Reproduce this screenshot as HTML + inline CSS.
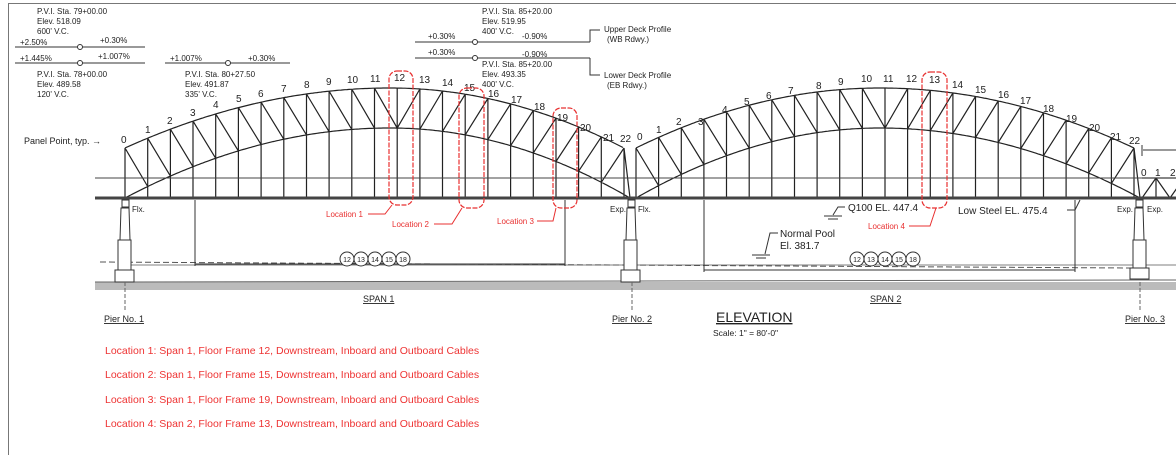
<!DOCTYPE html>
<html><head><meta charset="utf-8"><style>
html,body{margin:0;padding:0;background:#fff;width:1176px;height:455px;overflow:hidden}
svg{display:block}
text{font-family:"Liberation Sans",sans-serif;fill:#222}
.s{font-size:8px}.n{font-size:10px}.r{fill:#e83030;font-size:8px}
.list{fill:#ee3333;font-size:10.5px}
</style></head><body>
<svg id="d" width="1176" height="455" viewBox="0 0 1176 455" xmlns="http://www.w3.org/2000/svg">
<rect x="8.5" y="3.5" width="1180" height="460" fill="none" stroke="#777" stroke-width="1"/>
<g id="lines" stroke="#222" stroke-width="1.2" fill="none"></g>
<line x1="95" y1="198" x2="1176" y2="198" stroke="#444" stroke-width="3"/>
<line x1="95" y1="178" x2="1176" y2="178" stroke="#444" stroke-width="1"/>
<rect x="95" y="282" width="1081" height="8" fill="#bbb"/>
<line x1="95" y1="282" x2="1176" y2="280" stroke="#666"/>
<line x1="100" y1="262" x2="1130" y2="268" stroke="#555" stroke-dasharray="6,3"/>
<line x1="125" y1="265" x2="1176" y2="265" stroke="#555" stroke-width="0.8"/>
<g stroke="#333" fill="#fff">
<rect x="122" y="200" width="7" height="7"/><path d="M121 208 L120 240 L130 240 L129 208 Z"/><rect x="118" y="240" width="13" height="32"/><rect x="115" y="270" width="19" height="12"/>
<rect x="628" y="200" width="7" height="7"/><path d="M627 208 L626 240 L636 240 L635 208 Z"/><rect x="624" y="240" width="13" height="32"/><rect x="621" y="270" width="19" height="12"/>
<rect x="1136" y="200" width="7" height="7"/><path d="M1135 208 L1134 240 L1144 240 L1143 208 Z"/><rect x="1133" y="240" width="13" height="30"/><rect x="1130" y="268" width="19" height="11"/>
</g>
<g stroke="#666" stroke-dasharray="4,2"><line x1="125" y1="282" x2="125" y2="312"/><line x1="632" y1="282" x2="632" y2="312"/><line x1="1140" y1="282" x2="1140" y2="312"/></g>
<g stroke="#333">
<line x1="195" y1="200" x2="195" y2="266"/><line x1="565" y1="200" x2="565" y2="266"/><line x1="195" y1="264" x2="565" y2="264"/>
<line x1="704" y1="200" x2="704" y2="272"/><line x1="1075" y1="200" x2="1075" y2="272"/><line x1="704" y1="270" x2="1075" y2="270"/>
<line x1="1143" y1="150" x2="1176" y2="150"/><line x1="1142" y1="145" x2="1142" y2="156"/>
</g>
<g fill="#fff" stroke="#333">
<circle cx="347" cy="259" r="7"/><circle cx="361" cy="259" r="7"/><circle cx="375" cy="259" r="7"/><circle cx="389" cy="259" r="7"/><circle cx="403" cy="259" r="7"/>
<circle cx="857" cy="259" r="7"/><circle cx="871" cy="259" r="7"/><circle cx="885" cy="259" r="7"/><circle cx="899" cy="259" r="7"/><circle cx="913" cy="259" r="7"/>
</g>
<g font-size="7" text-anchor="middle">
<text x="347" y="262" font-size="7">12</text><text x="361" y="262" font-size="7">13</text><text x="375" y="262" font-size="7">14</text><text x="389" y="262" font-size="7">15</text><text x="403" y="262" font-size="7">18</text>
<text x="857" y="262" font-size="7">12</text><text x="871" y="262" font-size="7">13</text><text x="885" y="262" font-size="7">14</text><text x="899" y="262" font-size="7">15</text><text x="913" y="262" font-size="7">18</text>
</g>
<g stroke="#333">
<line x1="15" y1="47" x2="145" y2="47"/><line x1="15" y1="63" x2="145" y2="63"/><line x1="165" y1="63" x2="290" y2="63"/>
<line x1="415" y1="42" x2="590" y2="42"/><line x1="415" y1="58" x2="590" y2="58"/>
<polyline points="590,42 590,30 600,30" fill="none"/><polyline points="590,58 590,75 600,75" fill="none"/>
</g>
<g fill="#fff" stroke="#333"><circle cx="80" cy="47" r="2.5"/><circle cx="80" cy="63" r="2.5"/><circle cx="228" cy="63" r="2.5"/><circle cx="475" cy="42" r="2.5"/><circle cx="475" cy="58" r="2.5"/></g>
<g class="s">
<text x="37" y="14" class="s">P.V.I. Sta. 79+00.00</text><text x="37" y="24" class="s">Elev. 518.09</text><text x="37" y="34" class="s">600' V.C.</text>
<text x="20" y="45" class="s">+2.50%</text><text x="100" y="43" class="s">+0.30%</text>
<text x="20" y="61" class="s">+1.445%</text><text x="98" y="59" class="s">+1.007%</text>
<text x="37" y="77" class="s">P.V.I. Sta. 78+00.00</text><text x="37" y="87" class="s">Elev. 489.58</text><text x="37" y="97" class="s">120' V.C.</text>
<text x="170" y="61" class="s">+1.007%</text><text x="248" y="61" class="s">+0.30%</text>
<text x="185" y="77" class="s">P.V.I. Sta. 80+27.50</text><text x="185" y="87" class="s">Elev. 491.87</text><text x="185" y="97" class="s">335' V.C.</text>
<text x="482" y="14" class="s">P.V.I. Sta. 85+20.00</text><text x="482" y="24" class="s">Elev. 519.95</text><text x="482" y="34" class="s">400' V.C.</text>
<text x="428" y="39" class="s">+0.30%</text><text x="522" y="39" class="s">-0.90%</text>
<text x="428" y="55" class="s">+0.30%</text><text x="522" y="57" class="s">-0.90%</text>
<text x="482" y="67" class="s">P.V.I. Sta. 85+20.00</text><text x="482" y="77" class="s">Elev. 493.35</text><text x="482" y="87" class="s">400' V.C.</text>
<text x="604" y="32" class="s">Upper Deck Profile</text><text x="607" y="42" class="s">(WB Rdwy.)</text>
<text x="604" y="78" class="s">Lower Deck Profile</text><text x="607" y="88" class="s">(EB Rdwy.)</text>
</g>
<text x="24" y="144" font-size="9">Panel Point, typ. →</text>
<g class="n">
<text x="121" y="143" font-size="10">0</text><text x="145" y="133" font-size="10">1</text><text x="167" y="124" font-size="10">2</text><text x="190" y="116" font-size="10">3</text><text x="213" y="108" font-size="10">4</text><text x="236" y="102" font-size="10">5</text><text x="258" y="97" font-size="10">6</text><text x="281" y="92" font-size="10">7</text><text x="304" y="88" font-size="10">8</text><text x="326" y="85" font-size="10">9</text><text x="347" y="83" font-size="10">10</text><text x="370" y="82" font-size="10">11</text><text x="394" y="81" font-size="10">12</text><text x="419" y="83" font-size="10">13</text><text x="442" y="86" font-size="10">14</text><text x="464" y="91" font-size="10">15</text><text x="488" y="97" font-size="10">16</text><text x="511" y="103" font-size="10">17</text><text x="534" y="110" font-size="10">18</text><text x="557" y="121" font-size="10">19</text><text x="580" y="131" font-size="10">20</text><text x="603" y="141" font-size="10">21</text><text x="620" y="142" font-size="10">22</text>
<text x="637" y="140" font-size="10">0</text><text x="656" y="133" font-size="10">1</text><text x="676" y="125" font-size="10">2</text><text x="698" y="125" font-size="10">3</text><text x="722" y="113" font-size="10">4</text><text x="744" y="105" font-size="10">5</text><text x="766" y="99" font-size="10">6</text><text x="788" y="94" font-size="10">7</text><text x="816" y="89" font-size="10">8</text><text x="838" y="85" font-size="10">9</text><text x="861" y="82" font-size="10">10</text><text x="883" y="82" font-size="10">11</text><text x="906" y="82" font-size="10">12</text><text x="929" y="83" font-size="10">13</text><text x="952" y="88" font-size="10">14</text><text x="975" y="93" font-size="10">15</text><text x="998" y="98" font-size="10">16</text><text x="1020" y="104" font-size="10">17</text><text x="1043" y="112" font-size="10">18</text><text x="1066" y="122" font-size="10">19</text><text x="1089" y="131" font-size="10">20</text><text x="1110" y="140" font-size="10">21</text><text x="1129" y="144" font-size="10">22</text>
<text x="1141" y="176" font-size="10">0</text><text x="1155" y="176" font-size="10">1</text><text x="1170" y="176" font-size="10">2</text>
</g>
<g font-size="8">
<text x="132" y="212" font-size="8">Flx.</text><text x="610" y="212" font-size="8">Exp.</text><text x="638" y="212" font-size="8">Flx.</text>
<text x="1117" y="212" font-size="8">Exp.</text><text x="1147" y="212" font-size="8">Exp.</text>
</g>
<text x="848" y="211" font-size="10">Q100 EL. 447.4</text>
<text x="958" y="214" font-size="10">Low Steel EL. 475.4</text>
<text x="780" y="237" font-size="10">Normal Pool</text><text x="780" y="249" font-size="10">El. 381.7</text>
<g stroke="#333" fill="none">
<polyline points="845,207 838,207 833,215"/><line x1="824" y1="216" x2="842" y2="216"/><line x1="828" y1="219" x2="838" y2="219"/>
<polyline points="1067,210 1075,210 1080,200"/>
<polyline points="778,233 770,233 765,254"/><line x1="752" y1="255" x2="770" y2="255"/><line x1="756" y1="258" x2="766" y2="258"/>
</g>
<text x="363" y="302" font-size="9" text-decoration="underline">SPAN 1</text>
<text x="870" y="302" font-size="9" text-decoration="underline">SPAN 2</text>
<text x="104" y="322" font-size="9" text-decoration="underline">Pier No. 1</text>
<text x="612" y="322" font-size="9" text-decoration="underline">Pier No. 2</text>
<text x="1125" y="322" font-size="9" text-decoration="underline">Pier No. 3</text>
<text x="716" y="322" font-size="14" text-decoration="underline">ELEVATION</text>
<text x="713" y="336" font-size="8.5">Scale:  1" =  80'-0"</text>
<g stroke="#e83030" fill="none" stroke-width="1.2" stroke-dasharray="5,1.5">
<rect x="389" y="71" width="24" height="134" rx="8"/>
<rect x="459" y="88" width="25" height="120" rx="8"/>
<rect x="553" y="108" width="24" height="100" rx="8"/>
<rect x="922" y="72" width="25" height="136" rx="8"/>
</g>
<g stroke="#e83030" fill="none">
<polyline points="368,214 385,214 392,205"/><polyline points="434,224 452,224 462,208"/><polyline points="537,221 553,221 556,208"/><polyline points="909,226 930,226 936,208"/>
</g>
<text x="326" y="217" class="r">Location 1</text><text x="392" y="227" class="r">Location 2</text><text x="497" y="224" class="r">Location 3</text><text x="868" y="229" class="r">Location 4</text>
<text x="105" y="354" class="list">Location 1:  Span 1, Floor Frame 12, Downstream, Inboard and Outboard Cables</text>
<text x="105" y="378" class="list">Location 2:  Span 1, Floor Frame 15, Downstream, Inboard and Outboard Cables</text>
<text x="105" y="403" class="list">Location 3:  Span 1, Floor Frame 19, Downstream, Inboard and Outboard Cables</text>
<text x="105" y="427" class="list">Location 4:  Span 2, Floor Frame 13, Downstream, Inboard and Outboard Cables</text>
</svg>
<script>
(function(){
var g=document.getElementById('lines'),d='';
function L(a,b,c,e){d+='M'+a.toFixed(1)+' '+b.toFixed(1)+'L'+c.toFixed(1)+' '+e.toFixed(1);}
function span(x0,x1,c,n){
 var hl=c-x0,hr=(x1-6)-c;
 function top(x){var h=x<c?hl:hr;var t=(x-c)/h;return 88+60*t*t;}
 function bot(x){var h=x<c?(c-x0):(x1-c);var t=(x-c)/h;return 128+70*t*t;}
 var pts=[];for(var i=0;i<=22;i++){pts.push(x0+i*((x1-6-x0)/22));}
 var s='',b='';
 for(var x=x0;x<=x1-6;x+=2)s+=(s?'L':'M')+x+' '+top(x).toFixed(1);
 for(var x=x0;x<=x1;x+=2)b+=(b?'L':'M')+x+' '+bot(x).toFixed(1);
 d+=s+b;
 for(i=0;i<=22;i++){var x=pts[i];L(x,top(x),x,198);}
 L(x1-6,top(x1-6),x1,198);
 for(i=0;i<22;i++){var xa=pts[i],xb=pts[i+1];
  if(xa<c-5) L(xa,top(xa),xb,Math.max(bot(xb),0)); else L(xa,bot(xa),xb,top(xb));}
 L(x0,top(x0),x0,198);
}
span(125,630,390,22);span(636,1140,880,22);
d+='M1142 178L1176 178';
for(var x=1142;x<1176;x+=28){L(x,198,x+14,178);L(x+14,178,x+28,198);L(x+14,178,x+14,198);}
var p=document.createElementNS('http://www.w3.org/2000/svg','path');p.setAttribute('d',d);g.appendChild(p);
})();
</script>
</body></html>
